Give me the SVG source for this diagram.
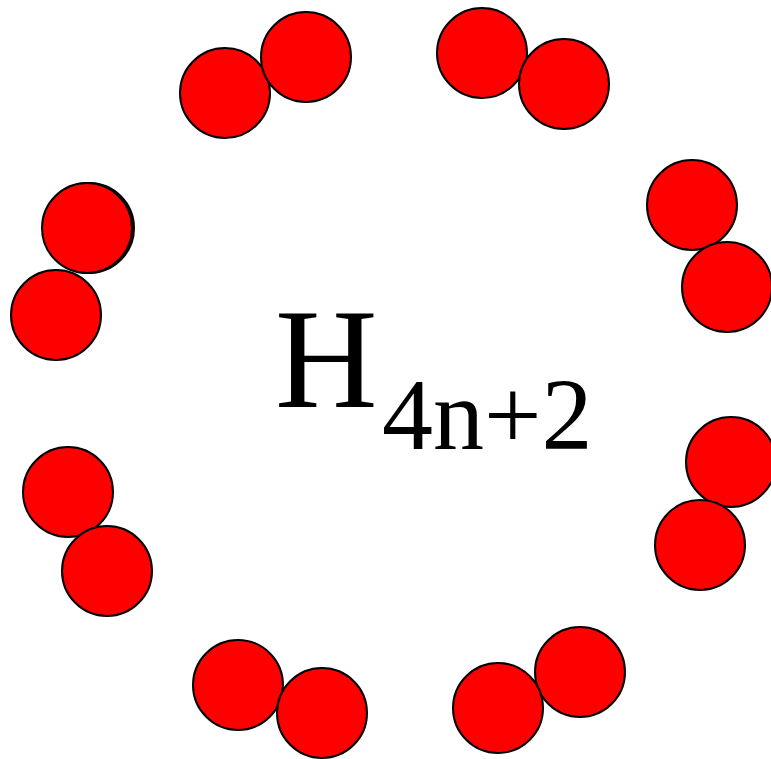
<svg xmlns="http://www.w3.org/2000/svg" width="771" height="759" viewBox="0 0 771 759">
<style>
.a{fill:#ff0000;stroke:#000;stroke-width:2}
.t{font-family:"Liberation Serif","Times New Roman",serif;fill:#000}
</style>
<rect width="771" height="759" fill="#fff"/>
<g id="atoms">
<g id="n1"><circle class="a" cx="225" cy="93" r="45"/><circle class="a" cx="306" cy="57" r="45"/></g>
<g id="n2"><circle class="a" cx="482" cy="53" r="45"/><circle class="a" cx="564" cy="84" r="45"/></g>
<g id="n3"><circle class="a" cx="692" cy="205" r="45"/><circle class="a" cx="727" cy="287" r="45"/></g>
<g id="n4"><circle class="a" cx="731" cy="462" r="45"/><circle class="a" cx="700" cy="545" r="45"/></g>
<g id="n5"><circle class="a" cx="580" cy="672" r="45"/><circle class="a" cx="498" cy="708" r="45"/></g>
<g id="n6"><circle class="a" cx="238" cy="685" r="45"/><circle class="a" cx="322" cy="713" r="45"/></g>
<g id="n7"><circle class="a" cx="68" cy="492" r="45"/><circle class="a" cx="107" cy="571" r="45"/></g>
<g id="n8"><circle class="a" cx="89" cy="228" r="45"/><circle class="a" cx="87" cy="228" r="45"/><circle class="a" cx="56" cy="315" r="45"/></g>
</g>
<g id="connectors"/>
<g id="label">
<text class="t" x="275" y="407" font-size="142">H</text>
<text class="t" x="382" y="449" font-size="102">4n+2</text>
</g>
</svg>
